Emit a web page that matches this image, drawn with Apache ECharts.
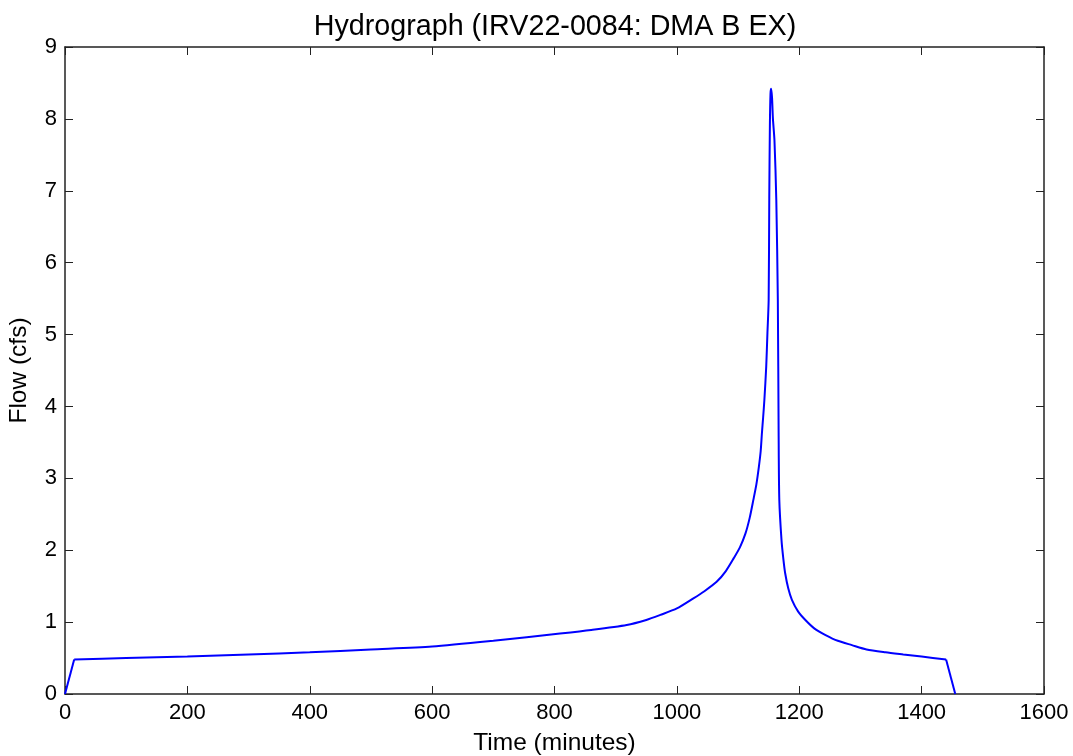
<!DOCTYPE html>
<html>
<head>
<meta charset="utf-8">
<title>Hydrograph</title>
<script src="https://cdn.jsdelivr.net/npm/echarts@6/dist/echarts.min.js"></script>
<style>
  html, body { margin: 0; padding: 0; background: #fff; }
  #chart { width: 1073px; height: 756px; }
</style>
</head>
<body>
<div id="chart"></div>
<script>
// Runoff hydrograph: time since storm start (minutes) vs. flow (cfs)
const timeMinutes = [
  0, 15, 100, 200, 300, 400, 500, 600, 700, 809, 860, 918, 950, 973, 1000, 1027,
  1045, 1065, 1080, 1093, 1103, 1112, 1119, 1125, 1130, 1134, 1137, 1139, 1141, 1143, 1146,
  1148, 1150, 1151, 1152, 1153, 1154, 1155.5, 1157, 1159.5, 1162.5, 1165, 1166.3,
  1167.4, 1171, 1174, 1177, 1182, 1188, 1198, 1210, 1225, 1243, 1263, 1286, 1310,
  1341, 1370, 1400, 1440, 1455
];
const flowCfs = [
  0, 0.48, 0.50, 0.52, 0.55, 0.58, 0.62, 0.66, 0.74, 0.84, 0.89, 0.96, 1.03, 1.10, 1.19, 1.33,
  1.43, 1.56, 1.71, 1.89, 2.04, 2.23, 2.45, 2.70, 2.92, 3.16, 3.38, 3.63, 3.85, 4.09, 4.55,
  5.02, 5.48, 6.90, 7.90, 8.35, 8.42, 8.30, 8.00, 7.70, 6.87, 5.48, 3.63,
  2.70, 2.14, 1.88, 1.68, 1.47, 1.31, 1.15, 1.03, 0.91, 0.82, 0.74, 0.68, 0.62,
  0.58, 0.55, 0.52, 0.48, 0
];
const xTicks = [0, 200, 400, 600, 800, 1000, 1200, 1400, 1600];
const yTicks = [0, 1, 2, 3, 4, 5, 6, 7, 8, 9];

const titleText = 'Hydrograph (IRV22-0084: DMA B EX)';
const xLabel = 'Time (minutes)';
const yLabel = 'Flow (cfs)';

const font = 'Liberation Sans, Arial, sans-serif';
const axisColor = '#222';
const lineColor = '#0000ff';

const points = timeMinutes.map((t, i) => [t, flowCfs[i]]);
// straight ramps at the start and end of the record, curved hydrograph in between
const rampUp = points.slice(0, 2);
const body = points.slice(1, points.length - 1);
const rampDown = points.slice(points.length - 2);

function baseAxis(ticks, show) {
  return {
    type: 'value',
    min: ticks[0],
    max: ticks[ticks.length - 1],
    interval: ticks[1] - ticks[0],
    axisLine: { show: true, onZero: false, lineStyle: { color: axisColor, width: 1.5 } },
    axisTick: { show: true, inside: true, length: 8, lineStyle: { color: axisColor, width: 1 } },
    axisLabel: {
      show: show, color: '#000', fontSize: 22, fontFamily: font, margin: 8,
      formatter: v => String(v)
    },
    splitLine: { show: false }
  };
}

function lineSeries(data, smooth) {
  return {
    type: 'line',
    xAxisIndex: 0,
    yAxisIndex: 0,
    data: data,
    showSymbol: false,
    smooth: smooth,
    lineStyle: { color: lineColor, width: 2 },
    z: 3
  };
}

const chart = echarts.init(document.getElementById('chart'), null, { renderer: 'canvas' });
chart.setOption({
  backgroundColor: '#fff',
  animation: false,
  title: {
    text: titleText,
    left: 550,
    top: 8,
    textAlign: 'center',
    textStyle: { color: '#000', fontSize: 28.7, fontWeight: 'normal', fontFamily: font }
  },
  grid: { left: 65, right: 29, top: 47, bottom: 62, containLabel: false, outerBoundsMode: 'none' },
  xAxis: [
    Object.assign(baseAxis(xTicks, true), {
      position: 'bottom',
      name: xLabel,
      nameLocation: 'middle',
      nameGap: 37,
      nameTextStyle: { color: '#000', fontSize: 24.5, fontFamily: font }
    }),
    Object.assign(baseAxis(xTicks, false), { position: 'top' })
  ],
  yAxis: [
    Object.assign(baseAxis(yTicks, true), {
      position: 'left',
      name: yLabel,
      nameLocation: 'middle',
      nameGap: 33,
      nameTextStyle: { color: '#000', fontSize: 24.5, fontFamily: font }
    }),
    Object.assign(baseAxis(yTicks, false), { position: 'right' })
  ],
  series: [
    lineSeries(rampUp, false),
    lineSeries(body, 0.25),
    lineSeries(rampDown, false)
  ]
});
</script>
</body>
</html>
